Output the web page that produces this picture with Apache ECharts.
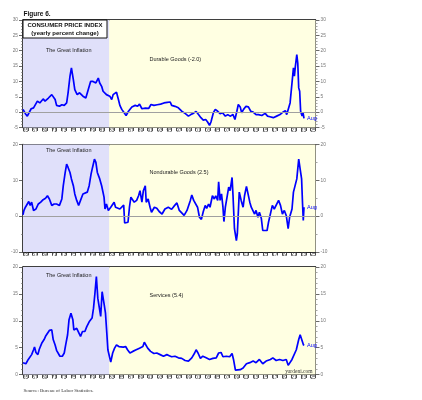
<!DOCTYPE html>
<html>
<head>
<meta charset="utf-8">
<script src="https://cdn.jsdelivr.net/npm/echarts@6/dist/echarts.min.js"></script>
<style>
  html, body { margin: 0; padding: 0; background: #fff; }
  #chart { width: 422px; height: 400px; }
</style>
</head>
<body>
<div id="chart"></div>
<script>
// 年份标签(每两年一个)
const xTickLabels = ['65','67','69','71','73','75','77','79','81','83','85','87','89','91','93',
  '95','97','99','01','03','05','07','09','11','13','15','17','19','21','23','25'];
const greatInflation = [1965, 1983];

// 各序列: [年份, 同比%]
const durableGoods = [
  [1965.0,0.9],[1965.5,-0.5],[1965.9,-1.3],[1966.3,-0.8],[1966.7,1.1],[1967.2,1.4],[1967.5,1.7],[1968.0,3.6],
  [1968.5,3.0],[1968.9,2.5],[1969.2,4.3],[1969.6,3.6],[1969.9,4.1],[1970.3,4.6],[1970.6,5.2],[1971.0,5.7],
  [1971.3,5.2],[1971.7,4.1],[1972.0,2.2],[1972.6,1.9],[1973.1,2.4],[1973.6,2.2],[1974.1,3.0],[1974.4,6.3],
  [1974.8,11.7],[1975.1,14.4],[1975.5,10.6],[1975.8,7.3],[1976.3,5.7],[1976.8,6.3],[1977.2,6.8],[1977.5,5.2],
  [1978.1,4.6],[1978.6,7.3],[1979.1,10.0],[1979.6,10.0],[1980.2,9.5],[1980.7,11.1],[1981.0,9.5],[1981.4,8.4],
  [1981.7,6.8],[1982.1,7.3],[1982.4,5.7],[1982.8,6.3],[1983.1,5.2],[1983.5,4.1],[1983.8,5.7],[1984.2,5.2],
  [1984.5,6.5],[1984.9,4.1],[1985.2,2.2],[1985.6,0.9],[1986.1,-0.2],[1986.5,-1.1],[1987.0,0.3],[1987.7,1.7],
  [1988.4,2.2],[1988.9,1.9],[1989.3,2.6],[1989.8,1.1],[1990.5,1.3],[1991.2,1.2],[1991.7,2.5],[1992.3,2.2],
  [1993.0,2.4],[1993.7,2.6],[1994.4,3.0],[1995.1,3.2],[1995.7,3.3],[1996.0,2.2],[1996.7,1.9],[1997.4,1.4],
  [1998.1,0.3],[1998.8,-0.4],[1999.1,-0.5],[1999.5,-1.3],[2000.0,-0.8],[2000.5,-0.4],[2001.1,0.2],[2001.6,-0.8],
  [2002.1,-1.8],[2002.6,-2.6],[2003.1,-2.4],[2003.5,-3.2],[2003.9,-4.3],[2004.2,-3.2],[2004.7,-0.2],[2005.1,0.9],
  [2005.6,0.3],[2006.1,-0.5],[2006.6,-0.2],[2007.2,-1.3],[2007.7,-0.8],[2008.2,-1.3],[2008.8,-0.8],[2009.2,-2.4],
  [2009.6,0.3],[2009.9,2.5],[2010.3,1.7],[2010.6,-0.2],[2011.0,0.9],[2011.5,1.9],[2012.0,1.7],[2012.5,0.3],
  [2013.0,0.0],[2013.6,-0.8],[2014.1,-0.8],[2014.8,-1.1],[2015.5,-0.4],[2016.0,-1.3],[2016.5,-1.5],[2017.2,-1.8],
  [2017.9,-1.3],[2018.6,-0.8],[2019.2,0.0],[2019.7,0.5],[2020.0,-0.8],[2020.4,-0.8],[2020.7,3.0],[2021.1,3.6],
  [2021.4,14.4],[2021.6,11.7],[2021.8,14.9],[2022.1,18.7],[2022.3,16.0],[2022.5,7.9],[2022.7,6.8],[2022.9,0.3],
  [2023.2,-1.3],[2023.4,-0.2],[2023.6,-2.0]
];
const nondurableGoods = [
  [1965.0,0.4],[1965.2,1.6],[1965.5,2.5],[1965.9,2.2],[1966.2,4.1],[1966.5,3.0],[1966.8,3.9],[1967.2,1.6],
  [1967.7,2.0],[1968.2,3.4],[1968.7,3.9],[1969.2,4.6],[1969.7,5.0],[1970.1,5.7],[1970.5,4.8],[1971.0,3.0],
  [1971.5,3.4],[1972.0,3.4],[1972.6,3.0],[1973.1,4.8],[1973.4,8.5],[1973.8,12.2],[1974.1,14.5],[1974.4,13.6],
  [1974.8,12.2],[1975.1,10.4],[1975.5,8.5],[1975.8,6.2],[1976.2,4.4],[1976.6,3.0],[1977.0,3.4],[1977.5,6.2],
  [1977.9,6.5],[1978.4,6.7],[1978.8,8.5],[1979.2,11.8],[1979.5,13.6],[1979.9,15.9],[1980.2,15.0],[1980.5,12.2],
  [1981.0,10.4],[1981.4,8.5],[1981.9,5.3],[1982.1,2.0],[1982.4,3.4],[1982.8,1.6],[1983.3,2.5],[1983.6,2.0],
  [1984.0,3.9],[1984.3,2.5],[1984.7,3.0],[1985.2,2.0],[1985.6,2.5],[1986.0,3.1],[1986.2,-1.9],[1986.6,-2.4],
  [1986.9,-1.7],[1987.2,2.5],[1987.5,5.3],[1987.9,5.7],[1988.2,3.9],[1988.7,4.4],[1989.1,5.7],[1989.4,7.1],
  [1989.8,3.9],[1990.1,7.1],[1990.5,8.5],[1990.7,3.9],[1991.1,4.8],[1991.5,2.5],[1991.8,1.1],[1992.4,2.5],
  [1992.9,2.2],[1993.4,1.3],[1994.0,0.6],[1994.6,2.0],[1995.3,2.5],[1996.0,1.9],[1996.5,2.8],[1997.1,3.7],
  [1997.6,1.6],[1998.1,0.9],[1998.6,0.2],[1999.2,1.6],[1999.9,4.4],[2000.2,5.9],[2000.6,4.4],[2000.9,4.8],
  [2001.4,2.5],[2001.8,-0.3],[2002.2,-0.9],[2002.6,1.3],[2003.0,3.0],[2003.3,2.2],[2003.7,3.4],[2004.0,2.5],
  [2004.5,5.7],[2004.9,4.8],[2005.2,5.7],[2005.6,4.4],[2005.8,9.6],[2006.1,4.4],[2006.4,6.2],[2006.7,2.5],
  [2006.9,-1.5],[2007.2,2.5],[2007.5,3.0],[2007.9,8.1],[2008.2,7.1],[2008.6,10.8],[2008.8,5.7],[2009.1,-3.5],
  [2009.5,-6.8],[2009.7,-4.9],[2010.1,6.7],[2010.5,4.4],[2010.9,2.5],[2011.2,5.7],[2011.6,8.3],[2011.9,8.1],
  [2012.3,3.9],[2012.6,2.5],[2012.9,2.2],[2013.3,0.6],[2013.6,1.6],[2014.0,-0.3],[2014.3,1.1],[2014.7,-0.6],
  [2015.0,-4.0],[2015.4,-4.4],[2015.9,-4.0],[2016.2,-1.7],[2016.6,-1.2],[2017.0,3.0],[2017.4,2.0],[2017.8,2.5],
  [2018.3,4.4],[2018.7,3.0],[2019.1,0.6],[2019.5,1.6],[2019.9,0.2],[2020.3,-3.5],[2020.6,-0.3],[2021.1,2.0],
  [2021.4,6.7],[2021.8,7.1],[2022.1,10.4],[2022.5,15.9],[2022.8,13.1],[2023.1,10.4],[2023.3,3.4],[2023.45,-1.2],
  [2023.6,2.5]
];
const services = [
  [1965.0,2.2],[1965.6,2.0],[1966.1,2.8],[1966.5,2.5],[1966.8,3.7],[1967.2,4.6],[1967.4,5.1],[1967.7,4.1],
  [1968.1,3.7],[1968.4,4.7],[1968.9,5.8],[1969.4,6.5],[1969.7,7.1],[1970.1,7.2],[1970.5,8.2],[1971.0,8.3],
  [1971.3,6.5],[1971.7,5.5],[1972.0,4.5],[1972.4,4.6],[1972.7,3.4],[1973.2,3.4],[1973.6,4.0],[1973.9,5.5],
  [1974.3,7.4],[1974.6,10.2],[1975.0,11.4],[1975.4,10.2],[1975.6,8.3],[1976.2,8.6],[1976.6,8.4],[1977.0,7.1],
  [1977.4,8.0],[1977.9,8.0],[1978.3,8.9],[1978.8,9.8],[1979.4,10.5],[1979.7,12.3],[1980.0,15.1],[1980.3,18.2],
  [1980.6,14.2],[1980.9,14.0],[1981.2,10.8],[1981.5,15.4],[1981.9,13.2],[1982.2,11.4],[1982.5,7.4],[1982.7,4.6],
  [1983.0,4.3],[1983.3,2.3],[1983.7,4.0],[1984.1,4.9],[1984.5,5.5],[1985.0,5.2],[1985.4,5.4],[1985.9,5.1],
  [1986.4,5.2],[1986.8,4.6],[1987.3,4.0],[1987.9,4.3],[1988.6,4.6],[1989.3,4.9],[1990.0,5.2],[1990.3,6.0],
  [1990.7,6.3],[1991.0,4.9],[1991.6,4.3],[1992.3,3.9],[1992.9,4.0],[1993.6,3.7],[1994.3,3.4],[1995.0,3.7],
  [1995.5,3.5],[1996.0,3.3],[1996.7,3.4],[1997.4,3.1],[1998.1,3.0],[1998.8,2.6],[1999.5,2.5],[2000.2,3.1],
  [2000.8,4.0],[2001.1,4.6],[2001.5,4.0],[2002.0,3.0],[2002.5,3.4],[2003.2,3.1],[2003.9,2.8],[2004.6,3.0],
  [2005.3,3.1],[2005.8,4.0],[2006.3,4.1],[2006.7,3.3],[2007.4,3.4],[2008.1,3.3],[2008.6,3.9],[2008.9,2.8],
  [2009.3,0.8],[2009.7,0.6],[2010.3,0.9],[2010.9,1.2],[2011.6,2.0],[2012.3,2.2],[2013.0,2.5],[2013.6,2.2],
  [2014.3,2.8],[2015.0,2.0],[2015.7,2.5],[2016.6,2.8],[2017.1,3.1],[2017.8,2.6],[2018.5,2.8],[2019.2,2.6],
  [2019.9,2.8],[2020.3,1.7],[2020.7,1.4],[2021.1,2.8],[2021.4,3.1],[2022.0,4.6],[2022.5,6.5],[2022.8,7.4],
  [2023.2,7.6],[2023.5,5.5],[2023.6,5.4]
];

const panelData = [durableGoods, nondurableGoods, services];
const panelNames = ['Durable Goods (-2.0)', 'Nondurable Goods (2.5)', 'Services (5.4)'];
const yMins = [-5, -10, 0];
const yMaxs = [30, 20, 20];
const yIntervals = [5, 10, 5];
const yMinorSplits = [5, 2, 5];
const zeroLine = [true, true, false];

const gridTops = [20, 144.5, 267];
const gridH = 107.5;
const gridLeft = 23;
const gridW = 292.5;

const FONT = 'Liberation Sans';
const SERIF = 'Liberation Serif';

let chart = echarts.init(document.getElementById('chart'), null, {renderer: 'canvas'});

let labelPos = xTickLabels.map(function (s) {
    let n = Number(s);
    return (n >= 60 ? 1900 : 2000) + n + 0.5;
});

let grids = [], xAxes = [], yAxes = [], series = [];
for (let i = 0; i < 3; i++) {
    grids.push({left: gridLeft, top: gridTops[i], width: gridW, height: gridH, show: true,
        backgroundColor: '#ffffe2', borderColor: '#333', borderWidth: 1});
    xAxes.push({
        type: 'value', gridIndex: i, min: 1965, max: 2026, interval: 1,
        axisLine: {show: true, onZero: false, lineStyle: {color: '#222', width: 1}},
        axisTick: {show: true, length: 3.5, lineStyle: {color: '#222', width: 0.8}},
        axisLabel: {
            customValues: labelPos, fontSize: 4.8, color: '#444', fontFamily: FONT, margin: 0.5,
            formatter: function (v) { return xTickLabels[labelPos.indexOf(v)] || ''; }
        },
        splitLine: {show: false}
    });
    // 顶部边框线
    xAxes.push({
        type: 'value', gridIndex: i, min: 1965, max: 2026, position: 'top',
        axisLine: {show: true, onZero: false, lineStyle: {color: '#222', width: 1.5}},
        axisTick: {show: false}, axisLabel: {show: false}, splitLine: {show: false}
    });
    ['left', 'right'].forEach(function (pos) {
        yAxes.push({
            type: 'value', gridIndex: i, position: pos, min: yMins[i], max: yMaxs[i], interval: yIntervals[i],
            axisLine: {show: true, onZero: false, lineStyle: {color: '#222', width: pos === 'left' ? 1.5 : 1}},
            axisTick: {show: true, length: 4, lineStyle: {color: '#444', width: 0.8}},
            minorTick: {show: true, splitNumber: yMinorSplits[i], length: 2, lineStyle: {color: '#666', width: 0.6}},
            axisLabel: {fontSize: 4.8, color: '#777', fontFamily: FONT, margin: 5},
            splitLine: {show: false}
        });
    });
    let s = {
        type: 'line', xAxisIndex: 2 * i, yAxisIndex: 2 * i,
        data: panelData[i], showSymbol: false, symbol: 'none', clip: true,
        lineStyle: {color: '#0000ff', width: 1.7},
        endLabel: {show: true, formatter: 'Aug', color: '#0000ff', fontSize: 5.5, fontFamily: FONT, distance: 3},
        markArea: {
            silent: true,
            data: [
                [{xAxis: greatInflation[0], itemStyle: {color: '#e0e0fa'}}, {xAxis: greatInflation[1]}],
                [{xAxis: greatInflation[1], itemStyle: {color: '#ffffe2'}}, {xAxis: 2026}]
            ]
        },
        z: 3
    };
    if (zeroLine[i]) {
        s.markLine = {
            silent: true, symbol: ['none', 'none'], label: {show: false},
            lineStyle: {color: '#a0a0a0', type: 'solid', width: 1},
            data: [{yAxis: 0}]
        };
    }
    series.push(s);
}

let giY = [50.5, 150.7, 275.5];
let nameY = [59.3, 172.3, 295];
let texts = [];
for (let i = 0; i < 3; i++) {
    texts.push({type: 'text', x: 68.7, y: giY[i], z: 100,
        style: {text: 'The Great Inflation', font: '5.5px ' + FONT, fill: '#222', align: 'center', verticalAlign: 'middle'}});
    texts.push({type: 'text', x: 149.5, y: nameY[i], z: 100,
        style: {text: panelNames[i], font: '5.5px ' + FONT, fill: '#222', align: 'left', verticalAlign: 'middle'}});
}

let chartOption = {
    backgroundColor: '#ffffff',
    animation: false,
    grid: grids,
    xAxis: xAxes,
    yAxis: yAxes,
    series: series,
    graphic: texts.concat([
        {type: 'text', x: 23.5, y: 14, z: 100,
            style: {text: 'Figure 6.', font: 'bold 6.5px ' + FONT, fill: '#111', verticalAlign: 'middle'}},
        {type: 'rect', shape: {x: 23, y: 20, width: 84, height: 18}, z: 100,
            style: {fill: '#ffffff', stroke: '#111', lineWidth: 1}},
        {type: 'text', x: 65, y: 25.5, z: 101,
            style: {text: 'CONSUMER PRICE INDEX', font: 'bold 6px ' + FONT, fill: '#111', align: 'center', verticalAlign: 'middle'}},
        {type: 'text', x: 65, y: 33.3, z: 101,
            style: {text: '(yearly percent change)', font: 'bold 6px ' + FONT, fill: '#111', align: 'center', verticalAlign: 'middle'}},
        {type: 'text', x: 23.5, y: 390.5, z: 100,
            style: {text: 'Source: Bureau of Labor Statistics.', font: '5px ' + SERIF, fill: '#333', verticalAlign: 'middle'}},
        {type: 'text', x: 312.5, y: 372, z: 100,
            style: {text: 'yardeni.com', font: '5.5px ' + SERIF, fill: '#333', align: 'right', verticalAlign: 'middle'}}
    ])
};
chart.setOption(chartOption, true);
</script>
</body>
</html>
